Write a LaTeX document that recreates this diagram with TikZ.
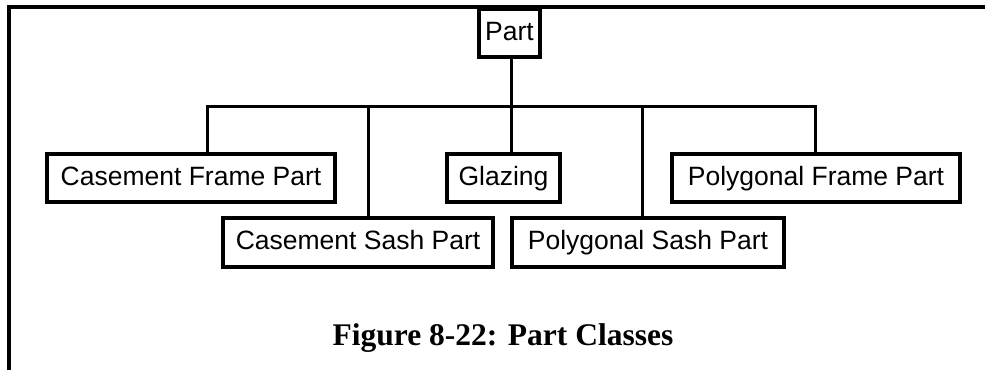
\documentclass[tikz,border=0pt]{standalone}
\usepackage{fontspec}
\setmainfont{Liberation Sans}
\newfontfamily\capfont{Liberation Serif}
\begin{document}
\begin{tikzpicture}[x=1pt,y=-1pt,
  cls/.style={draw,line width=3.2pt,inner sep=0pt,minimum height=48pt,
    font=\fontsize{26.5}{30}\selectfont,text height=19pt,text depth=5pt},
  conn/.style={line width=3pt},
  frameline/.style={line width=3.5pt}]
\useasboundingbox (0,0) rectangle (985,370);
% frame
\coordinate (fl) at (9,370);
\coordinate (fc) at (9,7);
\coordinate (fr) at (985,7);
\draw[frameline] (fl) -- (fc) -- (fr);
% nodes
\node[cls,minimum width=61pt] (part) at (509.5,33) {Part};
\node[cls,minimum width=288pt] (cfp) at (191,178) {Casement Frame Part};
\node[cls,minimum width=113pt] (gl) at (503.5,178) {Glazing};
\node[cls,minimum width=288pt] (pfp) at (816,178) {Polygonal Frame Part};
\node[cls,minimum width=270pt,minimum height=49pt] (csp) at (358,242.5) {Casement Sash Part};
\node[cls,minimum width=272pt,minimum height=49pt] (psp) at (648,242.5) {Polygonal Sash Part};
% bus
\coordinate (d1) at (207,106);
\coordinate (d2) at (368,106);
\coordinate (d3) at (511,106);
\coordinate (d4) at (642,106);
\coordinate (d5) at (815,106);
\draw[conn] (part.south -| d3) -- (d3);
\draw[conn,line cap=rect] (d1) -- (d5);
\draw[conn] (d1) -- (d1 |- cfp.north);
\draw[conn] (d2) -- (d2 |- csp.north);
\draw[conn] (d3) -- (d3 |- gl.north);
\draw[conn] (d4) -- (d4 |- psp.north);
\draw[conn] (d5) -- (d5 |- pfp.north);
% caption
\node[anchor=base,inner sep=0pt,font=\capfont\bfseries\fontsize{31.5}{36}\selectfont] (cap) at (503,345) {Figure 8-22: Part Classes};
\end{tikzpicture}
\end{document}
